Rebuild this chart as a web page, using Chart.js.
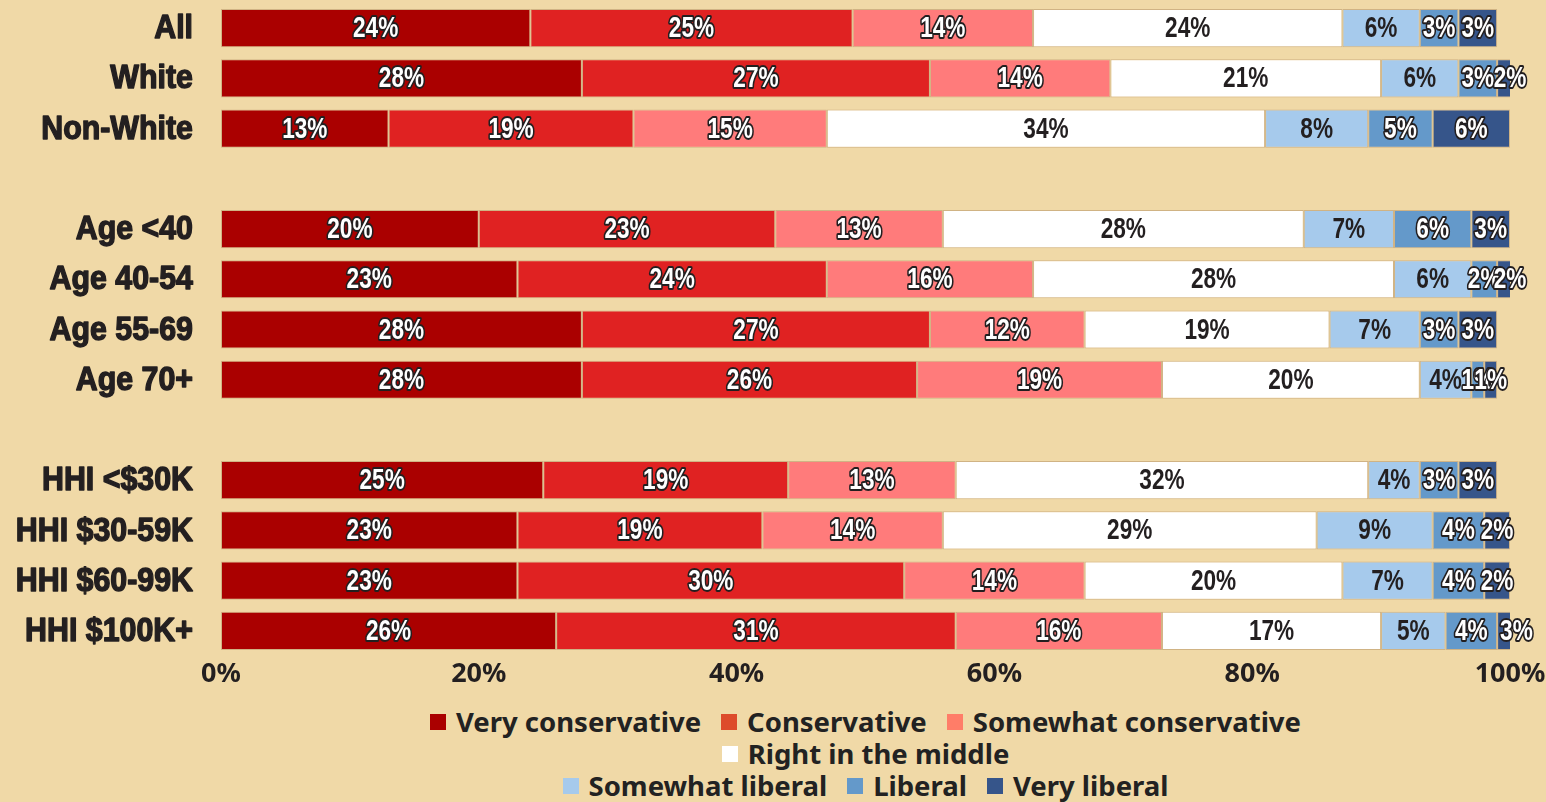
<!DOCTYPE html>
<html>
<head>
<meta charset="utf-8">
<script src="https://cdn.jsdelivr.net/npm/chart.js@4"></script>
<style>
  html, body { margin: 0; padding: 0; background: #F0D9A7; }
  #wrap { width: 1546px; height: 692px; position: relative; }
  #legend {
    width: 1546px; box-sizing: border-box;
    padding: 14px 36px 0 221px;
    font: 700 27.5px 'Noto Sans', sans-serif; color: #222;
  }
  .row { display: flex; justify-content: center; height: 32px; line-height: 32px; }
  .item { display: flex; align-items: center; margin: 0 10px; white-space: nowrap; }
  .box { width: 16px; height: 16px; margin-right: 10px; }
</style>
</head>
<body>
<div id="wrap"><canvas id="chart"></canvas></div>
<div id="legend"></div>
<script>
// rows of the chart, blank strings are spacer rows between groups
var categories = ['All', 'White', 'Non-White', '', 'Age <40', 'Age 40-54', 'Age 55-69', 'Age 70+', '',
  'HHI <$30K', 'HHI $30-59K', 'HHI $60-99K', 'HHI $100K+'];

var veryConservative     = [24, 28, 13, null, 20, 23, 28, 28, null, 25, 23, 23, 26];
var conservative         = [25, 27, 19, null, 23, 24, 27, 26, null, 19, 19, 30, 31];
var somewhatConservative = [14, 14, 15, null, 13, 16, 12, 19, null, 13, 14, 14, 16];
var rightInTheMiddle     = [24, 21, 34, null, 28, 28, 19, 20, null, 32, 29, 20, 17];
var somewhatLiberal      = [6, 6, 8, null, 7, 6, 7, 4, null, 4, 9, 7, 5];
var liberal              = [3, 3, 5, null, 6, 2, 3, 1, null, 3, 4, 4, 4];
var veryLiberal          = [3, 2, 6, null, 3, 2, 3, 1, null, 3, 2, 2, 3];

var xTicks = [0, 20, 40, 60, 80, 100];

var series = [
  { label: 'Very conservative', data: veryConservative, color: '#AA0000', key: '#AA0000', dark: true },
  { label: 'Conservative', data: conservative, color: '#E02222', key: '#DD4B2B', dark: true },
  { label: 'Somewhat conservative', data: somewhatConservative, color: '#FF7B7B', key: '#FF7D68', dark: true },
  { label: 'Right in the middle', data: rightInTheMiddle, color: '#FFFFFF', key: '#FFFFFF', dark: false },
  { label: 'Somewhat liberal', data: somewhatLiberal, color: '#A6CAEC', key: '#A6CAEC', dark: false },
  { label: 'Liberal', data: liberal, color: '#6499CA', key: '#6499CA', dark: true },
  { label: 'Very liberal', data: veryLiberal, color: '#36558A', key: '#36558A', dark: true }
];

// narrow bold text: Liberation Sans squeezed horizontally
function narrowText(ctx, txt, x, y, sx, outline, heavy) {
  ctx.save();
  ctx.translate(x, y);
  ctx.scale(sx, 1);
  if (outline) {
    ctx.lineWidth = 4;
    ctx.strokeStyle = '#231F20';
    ctx.strokeText(txt, 0, 0);
    ctx.fillStyle = '#fff';
  } else {
    ctx.fillStyle = '#231F20';
    if (heavy) {
      ctx.lineWidth = 1.4;
      ctx.strokeStyle = '#231F20';
      ctx.strokeText(txt, 0, 0);
    }
  }
  ctx.fillText(txt, 0, 0);
  ctx.restore();
}

// row names on the left and percent text in every segment
var textLayer = {
  id: 'textLayer',
  afterDatasetsDraw: function(chart) {
    var ctx = chart.ctx;
    var yScale = chart.scales.y;
    ctx.save();
    ctx.textBaseline = 'middle';
    ctx.lineJoin = 'round';

    ctx.font = "bold 33px 'Liberation Sans', sans-serif";
    ctx.textAlign = 'right';
    chart.data.labels.forEach(function(name, j) {
      if (!name) return;
      narrowText(ctx, name, chart.chartArea.left - 28, yScale.getPixelForValue(j) + 1, 0.92, false, true);
    });

    ctx.font = "bold 29px 'Liberation Sans', sans-serif";
    ctx.textAlign = 'center';
    chart.data.datasets.forEach(function(ds, i) {
      var meta = chart.getDatasetMeta(i);
      meta.data.forEach(function(bar, j) {
        var v = ds.data[j];
        if (v == null) return;
        narrowText(ctx, v + '%', (bar.x + bar.base) / 2, bar.y + 1, 0.78, series[i].dark, false);
      });
    });
    ctx.restore();
  }
};

var myChart = new Chart(document.getElementById('chart'), {
  type: 'bar',
  data: {
    labels: categories,
    datasets: series.map(function(s) {
      return {
        label: s.label,
        data: s.data,
        backgroundColor: s.color,
        borderColor: 'rgba(150,110,70,0.35)',
        borderWidth: 1,
        borderSkipped: false,
        barPercentage: 0.76,
        categoryPercentage: 1
      };
    })
  },
  options: {
    indexAxis: 'y',
    responsive: true,
    maintainAspectRatio: false,
    animation: false,
    layout: { padding: { top: 3, right: 36, left: 0, bottom: 0 } },
    plugins: {
      legend: { display: false },
      tooltip: { enabled: false }
    },
    scales: {
      x: {
        stacked: true,
        min: 0,
        max: 100,
        afterFit: function(scale) {
          scale.height = 36;
          scale.paddingLeft = 0;
          scale.paddingRight = 0;
        },
        afterBuildTicks: function(scale) {
          scale.ticks = xTicks.map(function(v) { return { value: v }; });
        },
        grid: { display: false, drawTicks: false },
        border: { display: false },
        ticks: {
          padding: 2,
          color: '#231F20',
          font: { family: "'Noto Sans', sans-serif", size: 27, weight: 'bold' },
          callback: function(v) { return v + '%'; }
        }
      },
      y: {
        stacked: true,
        afterFit: function(scale) {
          scale.width = 221;
          scale.paddingTop = 0;
          scale.paddingBottom = 0;
        },
        grid: { display: false, drawTicks: false },
        border: { display: false },
        ticks: { display: false }
      }
    }
  },
  plugins: [textLayer]
});

// legend below the chart, 3 + 1 + 3 items
var legendRows = [[0, 1, 2], [3], [4, 5, 6]];
var legendEl = document.getElementById('legend');
legendRows.forEach(function(r) {
  var row = document.createElement('div');
  row.className = 'row';
  r.forEach(function(i) {
    var item = document.createElement('div');
    item.className = 'item';
    var box = document.createElement('span');
    box.className = 'box';
    box.style.background = series[i].key;
    item.appendChild(box);
    item.appendChild(document.createTextNode(myChart.data.datasets[i].label));
    row.appendChild(item);
  });
  legendEl.appendChild(row);
});
</script>
</body>
</html>
